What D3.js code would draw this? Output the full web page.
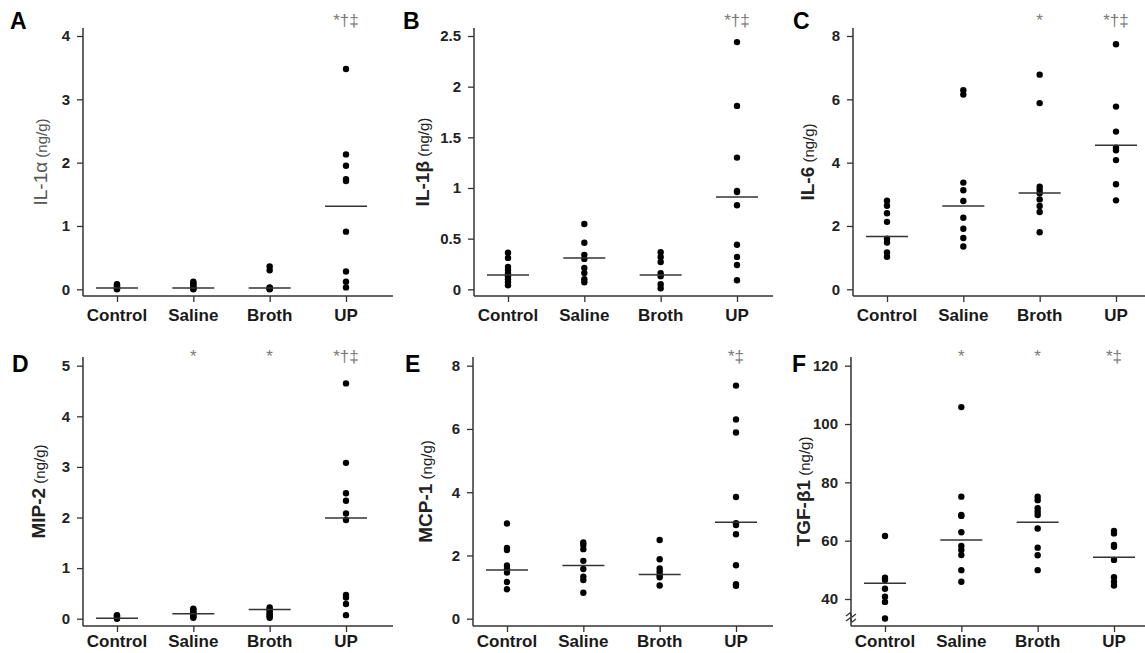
<!DOCTYPE html>
<html>
<head>
<meta charset="utf-8">
<script src="https://cdn.jsdelivr.net/npm/d3@7"></script>
<style>
  body { margin: 0; background: #fff; }
  svg { font-family: "Liberation Sans", Arial, sans-serif; }
</style>
</head>
<body>
<script>
// groups on the x axis (same in every panel)
const groups = ["Control", "Saline", "Broth", "UP"]

// A: IL-1 alpha
const il1aPoints = [
    [0.0, 0.01, 0.02, 0.03, 0.05, 0.07, 0.08],
    [0.0, 0.01, 0.03, 0.05, 0.08, 0.10, 0.12],
    [0.0, 0.01, 0.02, 0.03, 0.30, 0.36],
    [0.03, 0.12, 0.28, 0.91, 1.71, 1.74, 1.95, 2.13, 3.48]
]
const il1aMeans = [0.02, 0.02, 0.02, 1.31]
const il1aTicks = [0, 1, 2, 3, 4]
const il1aMarks = ["", "", "", "*†‡"]

// B: IL-1 beta
const il1bPoints = [
    [0.04, 0.07, 0.10, 0.13, 0.16, 0.19, 0.22, 0.31, 0.36],
    [0.07, 0.10, 0.16, 0.21, 0.30, 0.34, 0.46, 0.645],
    [0.01, 0.05, 0.13, 0.16, 0.27, 0.32, 0.365],
    [0.09, 0.24, 0.32, 0.44, 0.83, 0.96, 0.97, 1.30, 1.81, 2.44]
]
const il1bMeans = [0.14, 0.31, 0.14, 0.91]
const il1bTicks = [0, 0.5, 1, 1.5, 2, 2.5]
const il1bMarks = ["", "", "", "*†‡"]

// C: IL-6
const il6Points = [
    [1.03, 1.16, 1.48, 1.6, 2.13, 2.4, 2.64, 2.8],
    [1.35, 1.62, 1.91, 2.26, 2.79, 3.13, 3.37, 6.15, 6.29],
    [1.8, 2.44, 2.63, 2.84, 3.03, 3.14, 3.24, 5.88, 6.78],
    [2.81, 3.32, 4.08, 4.39, 4.47, 4.98, 5.77, 7.74]
]
const il6Means = [1.67, 2.63, 3.04, 4.55]
const il6Ticks = [0, 2, 4, 6, 8]
const il6Marks = ["", "", "*", "*†‡"]

// D: MIP-2
const mip2Points = [
    [0.0, 0.02, 0.04, 0.06, 0.07],
    [0.02, 0.04, 0.07, 0.10, 0.12, 0.15, 0.18, 0.20],
    [0.02, 0.05, 0.08, 0.11, 0.15, 0.18, 0.22],
    [0.07, 0.29, 0.42, 0.47, 1.95, 2.08, 2.33, 2.48, 3.08, 4.65]
]
const mip2Means = [0.01, 0.10, 0.18, 1.99]
const mip2Ticks = [0, 1, 2, 3, 4, 5]
const mip2Marks = ["", "*", "*", "*†‡"]

// E: MCP-1
const mcp1Points = [
    [0.93, 1.16, 1.46, 1.59, 1.68, 2.17, 2.24, 3.01],
    [0.82, 1.22, 1.33, 1.57, 1.83, 2.2, 2.33, 2.41],
    [1.05, 1.31, 1.38, 1.49, 1.59, 1.88, 2.49],
    [1.04, 1.09, 1.69, 2.67, 2.96, 3.02, 3.85, 5.89, 6.3, 7.37]
]
const mcp1Means = [1.54, 1.68, 1.40, 3.05]
const mcp1Ticks = [0, 2, 4, 6, 8]
const mcp1Marks = ["", "", "", "*‡"]

// F: TGF-beta1
const tgfPoints = [
    [33.3, 39.0, 40.8, 43.5, 46.5, 47.3, 61.6],
    [45.9, 49.9, 55.1, 56.8, 58.2, 62.9, 68.5, 68.8, 75.1, 105.8],
    [49.9, 55.0, 57.6, 64.2, 68.8, 69.9, 71.1, 73.9, 75.1],
    [44.6, 45.9, 47.5, 53.4, 57.9, 58.5, 62.5, 63.3]
]
const tgfMeans = [45.4, 60.2, 66.3, 54.3]
const tgfTicks = [40, 60, 80, 100, 120]
const tgfMarks = ["", "*", "*", "*‡"]

const panels = [
    {letter: "A", name: "IL-1α", bold: false, points: il1aPoints, means: il1aMeans, ticks: il1aTicks, marks: il1aMarks},
    {letter: "B", name: "IL-1β", bold: true, points: il1bPoints, means: il1bMeans, ticks: il1bTicks, marks: il1bMarks},
    {letter: "C", name: "IL-6", bold: true, points: il6Points, means: il6Means, ticks: il6Ticks, marks: il6Marks},
    {letter: "D", name: "MIP-2", bold: true, points: mip2Points, means: mip2Means, ticks: mip2Ticks, marks: mip2Marks},
    {letter: "E", name: "MCP-1", bold: true, points: mcp1Points, means: mcp1Means, ticks: mcp1Ticks, marks: mcp1Marks},
    {letter: "F", name: "TGF-β1", bold: true, points: tgfPoints, means: tgfMeans, ticks: tgfTicks, marks: tgfMarks, broken: true}
]

// where things sit on the page
const layout = [
    {ax: 83, xEnd: 393, labelDx: -43, letterX: 10},
    {ax: 474, xEnd: 773, labelDx: -52, letterX: 403},
    {ax: 853, xEnd: 1145, labelDx: -46, letterX: 793},
    {ax: 83, xEnd: 393, labelDx: -45, letterX: 12},
    {ax: 473, xEnd: 773, labelDx: -48, letterX: 405},
    {ax: 851, xEnd: 1145, labelDx: -48, letterX: 792, yBase: 599}
]
const rows = [
    {top: 28, bottom: 296, tickTop: 36, tickBase: 289.3, letterY: 29, markY: 26, catY: 321},
    {top: 357, bottom: 626, tickTop: 365.7, tickBase: 618.7, letterY: 372, markY: 362, catY: 647}
]

const svg = d3.select("body").append("svg")
    .attr("width", 1145)
    .attr("height", 653)

panels.forEach((p, i) => {
    const L = layout[i]
    const R = rows[Math.floor(i / 3)]
    const g = svg.append("g").attr("class", "panel")

    const xScale = d3.scalePoint().domain(groups).range([L.ax + 34, L.ax + 263])
    const yScale = d3.scaleLinear()
        .domain([p.ticks[0], p.ticks[p.ticks.length - 1]])
        .range([L.yBase || R.tickBase, R.tickTop])

    // y axis
    const yAxis = d3.axisLeft(yScale).tickValues(p.ticks).tickSize(6).tickPadding(7)
        .tickFormat(d3.format("~g"))
    const yg = g.append("g").attr("transform", `translate(${L.ax},0)`).call(yAxis)
        .attr("font-size", 15).attr("font-family", "'Liberation Sans', Arial, sans-serif")
    yg.select(".domain").remove()
    yg.selectAll("line").attr("stroke", "#333").attr("stroke-width", 1.3)
    yg.selectAll("text").attr("font-weight", "bold").attr("fill", "#222")
    g.append("line")
        .attr("x1", L.ax).attr("x2", L.ax)
        .attr("y1", R.top).attr("y2", R.bottom)
        .attr("stroke", "#333").attr("stroke-width", 1.5)

    // x axis
    const xAxis = d3.axisBottom(xScale).tickSize(6).tickPadding(12)
    const xg = g.append("g").attr("transform", `translate(0,${R.bottom})`).call(xAxis)
    xg.select(".domain").remove()
    xg.selectAll("line").attr("stroke", "#333").attr("stroke-width", 1.3)
    xg.selectAll("text").remove()
    g.append("line")
        .attr("x1", L.ax).attr("x2", L.xEnd)
        .attr("y1", R.bottom).attr("y2", R.bottom)
        .attr("stroke", "#333").attr("stroke-width", 1.5)
    g.selectAll("text.cat")
        .data(groups)
        .enter()
        .append("text")
        .attr("class", "cat")
        .attr("x", d => xScale(d))
        .attr("y", R.catY)
        .attr("text-anchor", "middle")
        .attr("font-size", 17)
        .attr("font-weight", "bold")
        .attr("fill", "#1a1a1a")
        .text(d => d)

    // axis break marks for the TGF panel
    if (p.broken) {
        const by = R.bottom - 10
        ;[0, 5].forEach(off => {
            g.append("path")
                .attr("d", `M${L.ax - 5},${by + off} l4,-3 l2,4 l4,-3`)
                .attr("fill", "none").attr("stroke", "#333").attr("stroke-width", 1.2)
        })
    }

    // points
    p.points.forEach((vals, gi) => {
        g.selectAll(null)
            .data(vals)
            .enter()
            .append("circle")
            .attr("cx", xScale(groups[gi]))
            .attr("cy", d => yScale(d))
            .attr("r", 3.2)
            .attr("fill", "#000")
    })

    // mean lines
    g.selectAll("line.mean")
        .data(p.means)
        .enter()
        .append("line")
        .attr("class", "mean")
        .attr("x1", (d, gi) => xScale(groups[gi]) - 21)
        .attr("x2", (d, gi) => xScale(groups[gi]) + 21)
        .attr("y1", d => yScale(d))
        .attr("y2", d => yScale(d))
        .attr("stroke", "#333")
        .attr("stroke-width", 1.5)

    // significance symbols
    g.selectAll("text.sig")
        .data(p.marks)
        .enter()
        .append("text")
        .attr("class", "sig")
        .attr("x", (d, gi) => xScale(groups[gi]))
        .attr("y", R.markY)
        .attr("text-anchor", "middle")
        .attr("font-size", 17)
        .attr("fill", "#7a7a7a")
        .text(d => d)

    // panel letter
    g.append("text")
        .attr("x", L.letterX)
        .attr("y", R.letterY)
        .attr("font-size", 23)
        .attr("font-weight", "bold")
        .attr("fill", "#000")
        .text(p.letter)

    // y label
    const cy = (R.top + R.bottom) / 2
    const lab = g.append("text")
        .attr("transform", `translate(${L.ax + L.labelDx + 7},${cy}) rotate(-90)`)
        .attr("text-anchor", "middle")
        .attr("fill", p.bold ? "#222" : "#555")
    lab.append("tspan")
        .attr("font-size", 19)
        .attr("font-weight", p.bold ? "bold" : "normal")
        .text(p.name)
    lab.append("tspan")
        .attr("font-size", 15)
        .text(" (ng/g)")
})
</script>
</body>
</html>
